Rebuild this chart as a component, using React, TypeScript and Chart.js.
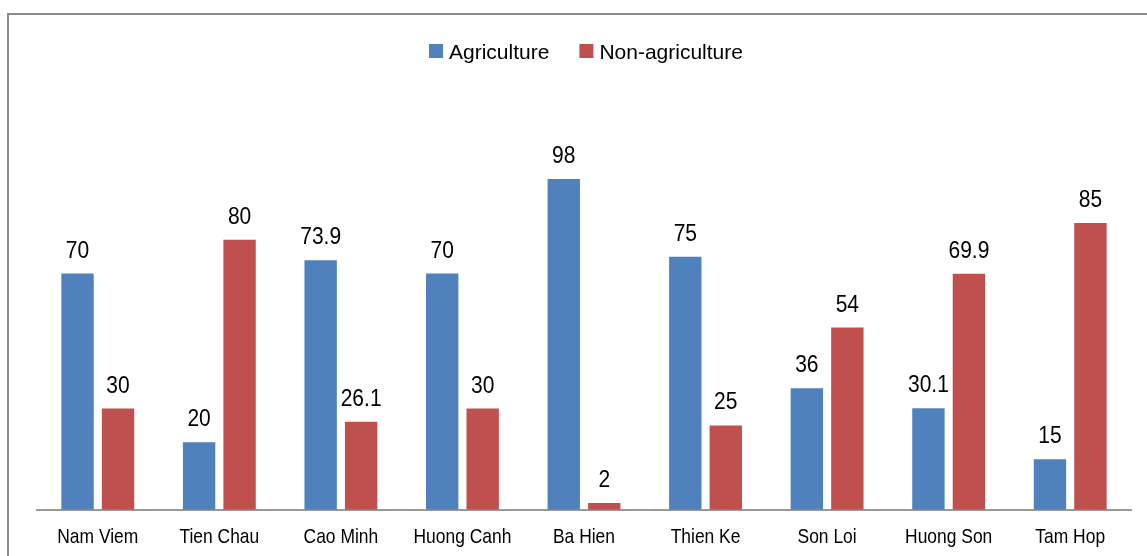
import React, { useEffect, useRef } from "react";
import { Chart, registerables } from "chart.js";

Chart.register(...registerables);

const communes = [
  "Nam Viem",
  "Tien Chau",
  "Cao Minh",
  "Huong Canh",
  "Ba Hien",
  "Thien Ke",
  "Son Loi",
  "Huong Son",
  "Tam Hop",
];
const agriculture = [70, 20, 73.9, 70, 98, 75, 36, 30.1, 15];
const nonAgriculture = [30, 80, 26.1, 30, 2, 25, 54, 69.9, 85];
const seriesColors = ["#4F81BD", "#C0504D"];

const FONT = "'Liberation Sans', Arial, sans-serif";

// Draws text with independent horizontal / vertical scaling (condensed look)
function drawScaledText(
  ctx: CanvasRenderingContext2D,
  text: string,
  x: number,
  y: number,
  size: number,
  sx: number,
  sy: number,
  align: CanvasTextAlign
) {
  ctx.save();
  ctx.translate(x, y);
  ctx.scale(sx, sy);
  ctx.font = `${size}px ${FONT}`;
  ctx.textAlign = align;
  ctx.textBaseline = "alphabetic";
  ctx.fillStyle = "#000";
  ctx.fillText(text, 0, 0);
  ctx.restore();
}

// Gray frame around the whole chart
const framePlugin = {
  id: "frame",
  beforeDraw(chart: Chart) {
    const ctx = chart.ctx;
    ctx.save();
    ctx.strokeStyle = "#8c8c8c";
    ctx.lineWidth = 2;
    ctx.strokeRect(8, 14, chart.width + 40, chart.height + 40);
    ctx.restore();
  },
};

// Legend row at the top, centred over the plot
const legendPlugin = {
  id: "topLegend",
  afterDraw(chart: Chart) {
    const ctx = chart.ctx;
    ctx.save();
    ctx.font = `21px ${FONT}`;
    const box = 14;
    const gap = 6;
    const itemGap = 30;
    const items = chart.data.datasets.map((ds, i) => ({
      label: String(ds.label),
      color: seriesColors[i],
      w: ctx.measureText(String(ds.label)).width,
    }));
    const total =
      items.reduce((s, it) => s + box + gap + it.w, 0) + itemGap * (items.length - 1);
    let x = 586 - total / 2;
    items.forEach((it) => {
      ctx.fillStyle = it.color;
      ctx.fillRect(x, 44, box, box);
      ctx.fillStyle = "#000";
      ctx.textAlign = "left";
      ctx.textBaseline = "alphabetic";
      ctx.fillText(it.label, x + box + gap, 59);
      x += box + gap + it.w + itemGap;
    });
    ctx.restore();
  },
};

// Category names under the axis and value labels above each bar
const textPlugin = {
  id: "chartText",
  afterDatasetsDraw(chart: Chart) {
    const ctx = chart.ctx;
    const xScale = chart.scales.x;
    (chart.data.labels as string[]).forEach((lab, i) => {
      drawScaledText(ctx, lab, xScale.getPixelForTick(i), 543, 21, 0.83, 1, "center");
    });
    chart.data.datasets.forEach((ds, di) => {
      const meta = chart.getDatasetMeta(di);
      meta.data.forEach((el: any, i: number) => {
        const v = ds.data[i] as number;
        drawScaledText(ctx, String(v), el.x, el.y - 16, 21, 1, 1.15, "center");
      });
    });
  },
};

export default function App() {
  const canvasRef = useRef<HTMLCanvasElement | null>(null);

  useEffect(() => {
    if (!canvasRef.current) return;
    const chart = new Chart(canvasRef.current, {
      type: "bar",
      data: {
        labels: communes,
        datasets: [
          {
            label: "Agriculture",
            data: agriculture,
            backgroundColor: seriesColors[0],
            categoryPercentage: 0.666,
            barPercentage: 0.8,
          },
          {
            label: "Non-agriculture",
            data: nonAgriculture,
            backgroundColor: seriesColors[1],
            categoryPercentage: 0.666,
            barPercentage: 0.8,
          },
        ],
      },
      options: {
        animation: false,
        responsive: true,
        maintainAspectRatio: false,
        layout: { padding: { left: 37, right: 16, top: 71, bottom: 8 } },
        plugins: {
          legend: { display: false },
          tooltip: { enabled: false },
        },
        scales: {
          x: {
            grid: { display: false, drawTicks: false },
            border: { display: true, color: "#999", width: 2 },
            ticks: {
              padding: 6.5,
              color: "rgba(0,0,0,0)",
              maxRotation: 0,
              minRotation: 0,
              autoSkip: false,
              font: { family: FONT, size: 21 },
            },
          },
          y: {
            display: false,
            min: 0,
            max: 130,
          },
        },
      },
      plugins: [framePlugin, legendPlugin, textPlugin],
    });
    return () => chart.destroy();
  }, []);

  return (
    <div style={{ position: "fixed", left: 0, top: 0, width: 1147, height: 556, background: "#fff" }}>
      <canvas ref={canvasRef} />
    </div>
  );
}
